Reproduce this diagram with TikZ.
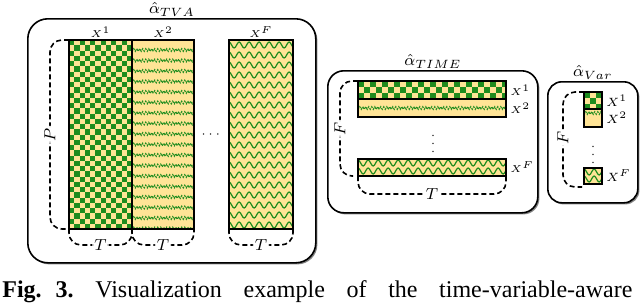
\documentclass[tikz,border=0pt]{standalone}
\usepackage{amsmath}
\usepackage{fontspec}
\setmainfont{Liberation Serif}
\usetikzlibrary{positioning,calc,shadows,decorations.pathmorphing}
\definecolor{chkgreen}{RGB}{30,140,30}
\definecolor{chkyellow}{RGB}{255,228,150}

\begin{document}
\begin{tikzpicture}[x=0.5pt,y=-0.5pt,
	panel/.style={draw,thick,fill=white,rounded corners=#1,anchor=north west,inner sep=0,
		drop shadow={shadow xshift=0.8pt,shadow yshift=-0.8pt,opacity=0.7,fill=black!70}},
	blk/.style={draw,thick,anchor=north west,inner sep=0,outer sep=0},
	checker/.style n args={3}{fill=chkyellow,path picture={
		\foreach \j in {0,...,#3} \foreach \i in {0,...,#2} {
			\pgfmathtruncatemacro\k{mod(\i+\j,2)}
			\ifnum\k=0 \fill[chkgreen] ([shift={(\i*#1,\j*#1)}]path picture bounding box.north west) rectangle +(#1,#1); \fi}}},
	stripes/.style n args={3}{fill=chkyellow,path picture={
		\foreach \j in {0,...,#3}
			\draw[chkgreen,line width=0.5pt,dash pattern=on 1.2pt off 0.6pt,decorate,
				decoration={zigzag,segment length=1.5pt,amplitude=0.7pt}]
				([shift={(-2,#2+\j*#1)}]path picture bounding box.north west) -- +(400,0);}},
	curls/.style n args={3}{fill=chkyellow,path picture={
		\foreach \j in {0,...,#3}
			\draw[chkgreen,line width=0.6pt,decorate,decoration={snake,segment length=5pt,amplitude=1.5pt}]
				([shift={(-3,#2+\j*#1)}]path picture bounding box.north west) -- +(400,0);}},
	brc/.style={draw,thick,dash pattern=on 2.5pt off 1.5pt,rounded corners=6pt},
	lbl/.style={fill=white,inner sep=1pt,font=\fontsize{8}{8}\selectfont},
	xl/.style={inner sep=1pt,font=\fontsize{5}{5}\selectfont},
	xr/.style={inner sep=1pt,font=\fontsize{6}{6}\selectfont},
	dts/.style={inner sep=0,font=\fontsize{6}{6}\selectfont},
	ttl/.style={inner sep=0.5pt,font=\fontsize{8}{8}\selectfont}]
	\useasboundingbox (0,0) rectangle (640,302);

	\node[panel=10pt,minimum width=144pt,minimum height=122pt] (tva) at (27,18) {};
	\node[panel=8pt,minimum width=105pt,minimum height=71pt] (time) at (327,70) {};
	\node[panel=7pt,minimum width=45pt,minimum height=60.5pt] (var) at (547,81) {};
	\node[ttl,above=0pt of tva] (ttva) {$\hat{\alpha}_{TVA}$};
	\node[ttl,above=0pt of time] (ttime) {$\hat{\alpha}_{TIME}$};
	\node[ttl,above=0pt of var] (tvar) {$\hat{\alpha}_{Var}$};

	\node[blk,checker={5.25}{12}{36},minimum width=31.5pt,minimum height=94.5pt] (c1) at (69,40) {};
	\node[blk,stripes={10.5}{10}{17},minimum width=31pt,minimum height=94.5pt] (c2) at (132,40) {};
	\node[blk,curls={10}{5}{18},minimum width=32pt,minimum height=94.5pt] (cF) at (229,40) {};
	\node[xl,above=0pt of c1] (xc1) {$X^1$};
	\node[xl,above=0pt of c2] (xc2) {$X^2$};
	\node[xl,above=0pt of cF] (xcF) {$X^F$};
	\node[dts] (hd) at (212,135) {$\cdots$};
	\draw[brc] (c1.north west) -| ([xshift=-9.5pt]c1.west) node[lbl,rotate=90] {$P$} |- (c1.south west);
	\foreach \c in {c1,c2,cF}
		\draw[brc] (\c.south west) |- ([yshift=-8pt]\c.south east) node[lbl,pos=0.75] {$T$} -- (\c.south east);

	\node[blk,checker={6}{25}{3},minimum width=74pt,minimum height=9pt] (b1) at (358,81) {};
	\node[blk,stripes={10}{9}{0},minimum width=74pt,minimum height=9pt,below=0pt of b1] (b2) {};
	\node[blk,curls={8}{4}{1},minimum width=74pt,minimum height=8.5pt] (bF) at (358,159) {};
	\node[xl,right=1pt of b1] (xb1) {$X^1$};
	\node[xl,right=1pt of b2] (xb2) {$X^2$};
	\node[xl,right=1pt of bF] (xbF) {$X^F$};
	\node[dts] (vd1) at (433,138) {$\vdots$};
	\coordinate (fm) at ($(b1.north west)!0.5!(bF.south west)$);
	\draw[brc] (b1.north west) -| ([xshift=-9pt]fm) node[lbl,rotate=90] {$F$} |- ([xshift=-2.5pt]bF.south west);
	\draw[brc] (bF.south west) |- ([yshift=-9pt]bF.south east) node[lbl,pos=0.75] {$T$} -- (bF.south east);

	\node[blk,checker={6}{3}{3},minimum width=9pt,minimum height=8.5pt] (s1) at (584,92) {};
	\node[blk,stripes={10}{4}{0},minimum width=9pt,minimum height=9pt,below=0pt of s1] (s2) {};
	\node[blk,curls={7}{4}{1},minimum width=9pt,minimum height=8pt] (sF) at (584,168) {};
	\node[xr,right=1pt of s1] (xs1) {$X^1$};
	\node[xr,right=1pt of s2] (xs2) {$X^2$};
	\node[xr,right=1pt of sF] (xsF) {$X^F$};
	\node[dts] (vd2) at (593,149) {$\vdots$};
	\coordinate (gm) at ($(s1.north west)!0.5!(sF.south west)$);
	\draw[brc] (s1.north west) -| ([xshift=-10.5pt]gm) node[lbl,rotate=90] {$F$} |- ([shift={(-1pt,-1.5pt)}]sF.south west);

	\node[anchor=base west,inner sep=0] (cap) at (2,297) {\fontsize{12}{14}\selectfont
		\makebox[315pt][l]{\textbf{Fig.\hspace{7pt}3.}\hfill Visualization\hfill example\hfill of\hfill the\hfill time-variable-aware}};
\end{tikzpicture}
\end{document}
